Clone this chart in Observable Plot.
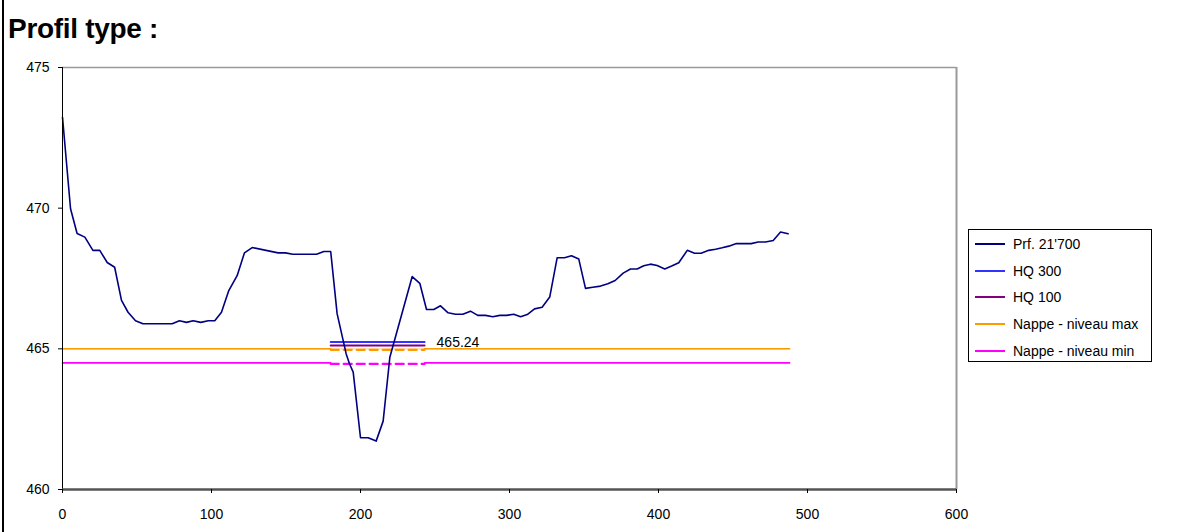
<!DOCTYPE html>
<html>
<head>
<meta charset="utf-8">
<script src="https://cdn.jsdelivr.net/npm/d3@7"></script>
<script src="https://cdn.jsdelivr.net/npm/@observablehq/plot@0.6"></script>
<style>
  html, body { margin: 0; padding: 0; background: #fff; }
  #wrap { position: relative; width: 1179px; height: 532px; overflow: hidden; background: #fff;
          font-family: "Liberation Sans", Arial, sans-serif; }
  #leftbar { position: absolute; left: 2px; top: 0; width: 2px; height: 532px; background: #000; }
  #title { position: absolute; left: 8px; top: 15px; font-size: 28px; line-height: 28px; font-weight: bold; color: #000; letter-spacing: -0.3px; }
  #chart { position: absolute; left: 0; top: 50px; }
  #legend { position: absolute; left: 968px; top: 229px; width: 182px; height: 131px; border: 1px solid #000; background: #fff; }
  .row { position: absolute; left: 0; height: 20px; width: 182px; }
  .sw { position: absolute; left: 6px; top: 9px; width: 30px; height: 2px; }
  .lb { position: absolute; left: 44px; top: 1px; font-size: 14px; line-height: 18px; color: #000; white-space: nowrap; }
</style>
</head>
<body>
<div id="wrap">
  <div id="leftbar"></div>
  <div id="title">Profil type :</div>
  <div id="chart"></div>
  <div id="legend"></div>
</div>
<script>
// ---- data ----
const profileX = [0,5.4,9.8,15,20.4,25,30,35,39.6,44,49,54,73.6,78.5,83.2,87.7,92.8,97.8,102.2,106.7,
  111.6,117.2,122.1,127.3,144.7,149.6,154.6,170.5,175.4,180,184.3,190.4,192.6,195.1,200,205.1,210.5,215.2,219.7,234.7,
  239.8,244.3,249.2,253.7,258.8,263.8,268.7,273.8,278.7,283.9,288.8,293.5,298,302.9,307.4,311.9,316.8,321.9,327,332,
  336.9,341.6,346.5,351,355.9,361.1,366,370.9,376.3,381.2,385.7,390.1,394.6,399.1,404.2,409.2,413.6,419.3,424.2,428.6,
  433.7,438.3,442.7,447.2,452.3,457.2,462.2,466.9,471.8,477,481.9,487];
const profileZ = [473.23,469.98,469.1,468.97,468.5,468.5,468.07,467.9,466.72,466.3,466.0,465.89,465.89,466.0,465.94,466.0,465.94,466.0,466.0,466.3,
  467.07,467.6,468.41,468.6,468.41,468.41,468.36,468.36,468.46,468.46,466.25,464.82,464.47,464.17,461.84,461.84,461.72,462.43,464.7,467.57,
  467.33,466.4,466.4,466.53,466.28,466.23,466.23,466.34,466.19,466.19,466.14,466.19,466.19,466.23,466.14,466.22,466.42,466.48,466.84,468.24,
  468.24,468.31,468.19,467.15,467.19,467.23,467.31,467.43,467.69,467.84,467.84,467.95,468.01,467.96,467.84,467.95,468.06,468.5,468.4,468.4,
  468.5,468.54,468.59,468.65,468.74,468.74,468.74,468.8,468.8,468.85,469.15,469.09];

const hqX = [180, 243];          // extent of the HQ levels / dashed part
const nappeX = [0, 180, 243, 488]; // extent of groundwater lines
const hq300 = 465.24;
const hq100 = 465.12;
const nappeMax = 465.0;
const nappeMin = 464.5;
const hqLabel = "465.24";

const xTicks = [0, 100, 200, 300, 400, 500, 600];
const yTicks = [460, 465, 470, 475];

const seriesNames = ["Prf. 21'700", "HQ 300", "HQ 100", "Nappe - niveau max", "Nappe - niveau min"];
const seriesColors = ["#000080", "#3333ff", "#800080", "#ff9900", "#ff00ff"];

// ---- derived tables ----
const profile = profileX.map((x, i) => ({x, z: profileZ[i]}));
const seg = (x0, x1, z) => [{x: x0, z}, {x: x1, z}];

const chart = Plot.plot({
  width: 1179,
  height: 482,
  marginLeft: 62,
  marginRight: 223,
  marginTop: 17,
  marginBottom: 43,
  style: {fontFamily: "'Liberation Sans', Arial, sans-serif", fontSize: "14px", background: "transparent", color: "#000", overflow: "visible"},
  x: {domain: [0, 600]},
  y: {domain: [460, 475]},
  marks: [
    Plot.ruleY([475], {stroke: "#999", strokeWidth: 1.5}),
    Plot.ruleX([600], {stroke: "#999", strokeWidth: 2}),
    // groundwater levels
    Plot.line(seg(nappeX[0], nappeX[3], nappeMax), {x: "x", y: "z", stroke: seriesColors[3], strokeWidth: 1.3, strokeOpacity: 0.4}),
    Plot.line(seg(nappeX[0], nappeX[1], nappeMax), {x: "x", y: "z", stroke: seriesColors[3], strokeWidth: 1.5}),
    Plot.line(seg(nappeX[2], nappeX[3], nappeMax), {x: "x", y: "z", stroke: seriesColors[3], strokeWidth: 1.5}),
    Plot.line(seg(nappeX[1], nappeX[2], nappeMax), {x: "x", y: "z", stroke: seriesColors[3], strokeWidth: 2.2, strokeDasharray: "8,5", dy: 1}),
    Plot.line(seg(nappeX[0], nappeX[1], nappeMin), {x: "x", y: "z", stroke: seriesColors[4], strokeWidth: 1.6}),
    Plot.line(seg(nappeX[2], nappeX[3], nappeMin), {x: "x", y: "z", stroke: seriesColors[4], strokeWidth: 1.6}),
    Plot.line(seg(nappeX[1], nappeX[2], nappeMin), {x: "x", y: "z", stroke: seriesColors[4], strokeWidth: 2.2, strokeDasharray: "8,5", dy: 1}),
    // HQ levels
    Plot.line(seg(hqX[0], hqX[1], hq300), {x: "x", y: "z", stroke: seriesColors[1], strokeWidth: 2}),
    Plot.line(seg(hqX[0], hqX[1], hq100), {x: "x", y: "z", stroke: seriesColors[2], strokeWidth: 2}),
    Plot.text([{x: hqX[1], z: hq300, t: hqLabel}], {x: "x", y: "z", text: "t", textAnchor: "start", dx: 12, fontSize: 14, fill: "#000"}),
    // profile
    Plot.line(profile, {x: "x", y: "z", stroke: seriesColors[0], strokeWidth: 1.6}),
    // axes
    Plot.ruleX([0], {stroke: "#000", strokeWidth: 1}),
    Plot.ruleY([460], {stroke: "#555", strokeWidth: 2.5}),
    Plot.axisY({ticks: yTicks, tickSize: 4, tickPadding: 9, label: null, fontSize: 14, tickFormat: d => String(d)}),
    Plot.axisX({ticks: xTicks, tickSize: 4, tickPadding: 16, label: null, fontSize: 14, tickFormat: d => String(d)})
  ]
});
document.getElementById("chart").appendChild(chart);

// legend
const legend = document.getElementById("legend");
seriesNames.forEach((name, i) => {
  const row = document.createElement("div");
  row.className = "row";
  row.style.top = (4 + i * 26.67) + "px";
  const sw = document.createElement("div");
  sw.className = "sw";
  sw.style.background = seriesColors[i];
  const lb = document.createElement("div");
  lb.className = "lb";
  lb.textContent = name;
  row.appendChild(sw);
  row.appendChild(lb);
  legend.appendChild(row);
});
</script>
</body>
</html>
